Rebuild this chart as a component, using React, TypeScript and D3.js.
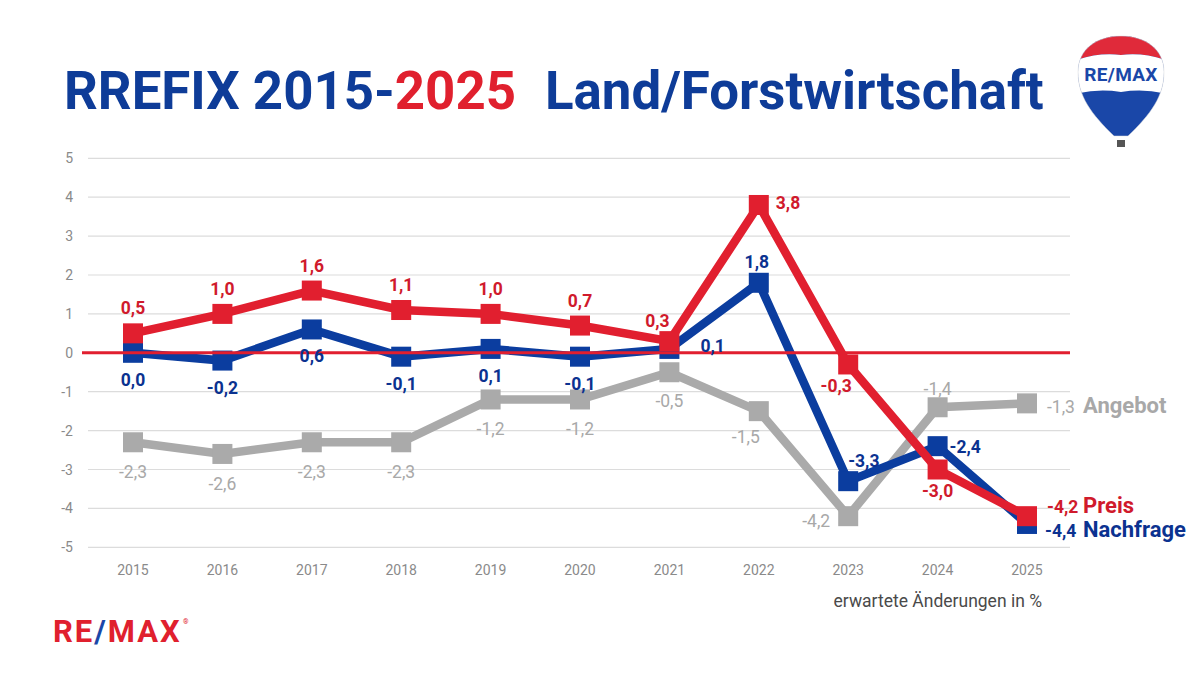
import React from "react";
import * as d3 from "d3";

const years = ["2015","2016","2017","2018","2019","2020","2021","2022","2023","2024","2025"];
const preis = [0.5, 1.0, 1.6, 1.1, 1.0, 0.7, 0.3, 3.8, -0.3, -3.0, -4.2];
const nachfrage = [0.0, -0.2, 0.6, -0.1, 0.1, -0.1, 0.1, 1.8, -3.3, -2.4, -4.4];
const angebot = [-2.3, -2.6, -2.3, -2.3, -1.2, -1.2, -0.5, -1.5, -4.2, -1.4, -1.3];
const yTicks = [5, 4, 3, 2, 1, 0, -1, -2, -3, -4, -5];
const seriesNames = ["Preis", "Nachfrage", "Angebot"];

const W = 1203, H = 677;
const RED = "#E11F2F", BLUE = "#0B3D9F", GRAY = "#AAAAAA";
const RED_T = "#D01A2C", BLUE_T = "#0B3290", GRAY_T = "#A8A8A8";

// label offsets [dx, dy, anchor] relative to point
type Off = [number, number, string];
const preisOff: Off[] = [
  [0, -19, "middle"], [0, -19, "middle"], [0, -19, "middle"], [0, -19, "middle"], [0, -19, "middle"],
  [0, -19, "middle"], [-12, -14, "middle"], [17, 4, "start"], [-12, 28, "middle"], [0, 27, "middle"], [20, -3, "start"],
];
const nachOff: Off[] = [
  [0, 33, "middle"], [0, 33, "middle"], [0, 33, "middle"], [0, 33, "middle"], [0, 33, "middle"],
  [0, 33, "middle"], [31, 3, "start"], [-2, -15, "middle"], [0, -14, "start"], [12, 7, "start"], [18, 13, "start"],
];
const angOff: Off[] = [
  [0, 36, "middle"], [0, 36, "middle"], [0, 36, "middle"], [0, 36, "middle"], [0, 36, "middle"],
  [0, 36, "middle"], [0, 35, "middle"], [-13, 32, "middle"], [-18, 11, "end"], [0, -12, "middle"], [20, 10, "start"],
];

const fmt = (v: number) => v.toFixed(1).replace(".", ",");

export default function App() {
  const x = d3.scalePoint<string>().domain(years).range([133, 1027]);
  const y = d3.scaleLinear().domain([-5, 5]).range([547.3, 158.3]);
  const line = d3.line<number>().x((_, i) => x(years[i])!).y((d) => y(d));

  const series = [
    { name: seriesNames[2], vals: angebot, color: GRAY, tcol: GRAY_T, off: angOff, weight: 400 },
    { name: seriesNames[1], vals: nachfrage, color: BLUE, tcol: BLUE_T, off: nachOff, weight: 700 },
    { name: seriesNames[0], vals: preis, color: RED, tcol: RED_T, off: preisOff, weight: 700 },
  ];

  const renderSeries = (s: typeof series[0]) => (
    <g key={s.name}>
      <path d={line(s.vals) || ""} fill="none" stroke={s.color} strokeWidth={8.5} strokeLinejoin="miter" />
      {s.vals.map((v, i) => (
        <rect key={i} x={x(years[i])! - 10} y={y(v) - 10} width={20} height={20} fill={s.color} />
      ))}
    </g>
  );

  const renderLabels = (s: typeof series[0]) =>
    s.vals.map((v, i) => {
      const [dx, dy, anchor] = s.off[i];
      return (
        <text key={s.name + i} x={x(years[i])! + dx} y={y(v) + dy} textAnchor={anchor as any}
          fontSize={17.5} fontWeight={s.weight} fill={s.tcol}>
          {fmt(v)}
        </text>
      );
    });

  const cx = 1121;
  const balloon = `M${cx - 7},136 C${cx - 30},114 ${cx - 43},96 ${cx - 43},72 C${cx - 43},49 ${cx - 24},36 ${cx},36 C${cx + 24},36 ${cx + 43},49 ${cx + 43},72 C${cx + 43},96 ${cx + 30},114 ${cx + 7},136 Z`;

  return (
    <svg width={W} height={H} style={{ position: "absolute", left: 0, top: 0, background: "#fff" }}
      fontFamily="Roboto, 'Noto Sans', sans-serif">
      <rect width={W} height={H} fill="#fff" />
      {/* Title */}
      <text x={64} y={109} fontSize={52.8} fontWeight={700} fill="#0E3C98">
        <tspan>RREFIX 2015-</tspan>
        <tspan fill="#E0202E">2025</tspan>
      </text>
      <text x={545} y={109} fontSize={52.8} fontWeight={700} fill="#0E3C98">Land/Forstwirtschaft</text>

      {/* Balloon logo */}
      <defs>
        <clipPath id="balloonClip"><path d={balloon} /></clipPath>
      </defs>
      <g clipPath="url(#balloonClip)">
        <rect x={cx - 50} y={30} width={100} height={120} fill="#1A47A8" />
        <path d={`M${cx - 50},30 H${cx + 50} V62 Q${cx + 25},52 ${cx},55 Q${cx - 25},52 ${cx - 50},62 Z`} fill="#E02A3A" />
        <path d={`M${cx - 50},62 Q${cx - 25},52 ${cx},55 Q${cx + 25},52 ${cx + 50},62 V95 Q${cx + 25},88 ${cx},92 Q${cx - 25},88 ${cx - 50},95 Z`} fill="#fff" />
      </g>
      <path d={balloon} fill="none" stroke="#ddd" strokeWidth={0.5} />
      <text x={cx} y={81} textAnchor="middle" fontSize={19} fontWeight={700} fill="#1A47A8" letterSpacing={0.3}>RE/MAX</text>
      <rect x={cx - 4} y={140} width={8} height={7} fill="#555" />

      {/* Gridlines */}
      {yTicks.map((t) => (
        <g key={t}>
          {t !== 0 && <line x1={88} x2={1070} y1={y(t)} y2={y(t)} stroke="#DCDCDC" strokeWidth={1.2} />}
          <text x={73} y={y(t) + 5} textAnchor="end" fontSize={14} fill="#8A8A8A">{t}</text>
        </g>
      ))}
      {/* X labels */}
      {years.map((yr) => (
        <text key={yr} x={x(yr)} y={575} textAnchor="middle" fontSize={14} fill="#8A8A8A">{yr}</text>
      ))}
      <text x={1042} y={607} textAnchor="end" fontSize={17.5} fill="#4A4A4A">erwartete Änderungen in %</text>

      {renderSeries(series[0])}
      {renderSeries(series[1])}
      <line x1={82} x2={1070} y1={y(0)} y2={y(0)} stroke={RED} strokeWidth={3} />
      {renderSeries(series[2])}

      {series.map(renderLabels)}

      {/* Series names */}
      <text x={1083} y={y(angebot[10]) + 10} fontSize={22} fontWeight={700} fill={GRAY_T}>{seriesNames[2]}</text>
      <text x={1083} y={y(preis[10]) - 3} fontSize={22} fontWeight={700} fill={RED_T}>{seriesNames[0]}</text>
      <text x={1083} y={y(nachfrage[10]) + 13} fontSize={22} fontWeight={700} fill={BLUE_T}>{seriesNames[1]}</text>

      {/* Bottom logo */}
      <text x={53} y={642} fontSize={31} fontWeight={700} fill="#E0202E" letterSpacing={2}>
        <tspan>RE</tspan><tspan fill="#1A47A8">/</tspan><tspan>MAX</tspan>
      </text>
      <text x={183} y={624} fontSize={7} fill="#E0202E">®</text>
    </svg>
  );
}
